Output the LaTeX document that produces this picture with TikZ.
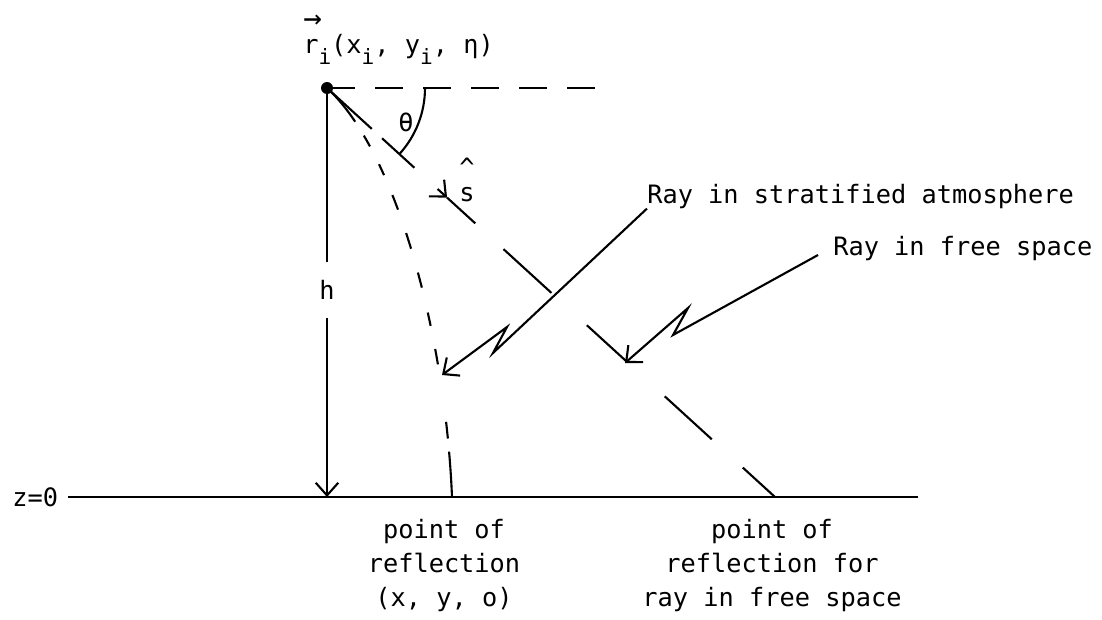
\documentclass[tikz,border=0pt]{standalone}
\usepackage{fontspec}
\setmainfont{DejaVu Sans Mono}
\usepackage{tikz}
\usetikzlibrary{arrows.meta,calc}

\begin{document}
\begin{tikzpicture}[
    x=0.025cm, y=-0.025cm,
    font=\fontsize{18}{24}\selectfont,
    ray/.style={line width=1.5pt},
    barb/.style={-{Straight Barb[length=9pt, width=16pt]}},
    txt/.style={inner sep=0pt}
]
\useasboundingbox (0,0) rectangle (1102,619);

% 観測点
\coordinate (src) at (327,88);
\fill (src) circle (6);
\node[txt, anchor=base west] (rlbl) at (303,53)
    {\makebox[0pt][l]{\raisebox{0.6cm}{\fontsize{22}{22}\selectfont →}}r\raisebox{-0.28cm}{\fontsize{15}{15}\selectfont i}(x\raisebox{-0.28cm}{\fontsize{15}{15}\selectfont i}, y\raisebox{-0.28cm}{\fontsize{15}{15}\selectfont i}, η)};

% 水平線と角度
\coordinate (hz) at (596,88);
\draw[ray, dash pattern=on 0.7cm off 0.5cm] (src) -- (hz);
\draw[ray] (src) ++(98,0) arc[start angle=0, end angle=42, radius=98];
\node (theta) at (406,122) {θ};

% 高さ h
\node[inner sep=0.45cm] (h) at (327,290) {h};
\coordinate (gh) at (327,497);
\draw[ray] (src) -- (h.north);
\draw[ray, barb] (h.south) -- (gh);

% 地面 z=0
\node[txt, anchor=west] (z0) at (12,497) {z=0};
\coordinate (ge) at (918,497);
\draw[ray] ([xshift=0.25cm]z0.east) -- (ge);

% 自由空間の光線
\coordinate (fs) at (775,497);
\foreach \a/\b in {0/0.10, 0.123/0.195, 0.268/0.331, 0.394/0.501, 0.58/0.67, 0.754/0.859, 0.928/1}
    \draw[ray] ($(src)!\a!(fs)$) -- ($(src)!\b!(fs)$);
\draw[ray, barb] ($(src)!0.247!(fs)$) -- ($(src)!0.268!(fs)$);
\node[txt, align=center, anchor=south] (shat) at (467,202) {\textasciicircum\\[-6pt]s};

% 成層大気中の光線
\coordinate (sp) at (452,497);
\draw[ray, dash pattern=on 1.1cm off 0.41cm on 0.31cm off 0.5cm on 0.3cm off 0.54cm on 0.39cm off 0.62cm on 0.41cm off 0.62cm on 0.39cm off 0.64cm on 0.34cm off 0.59cm on 0.39cm off 1.45cm on 0.42cm off 0.33cm on 1.3cm off 1cm]
    (src) .. controls (395,150) and (445,330) .. (sp);

% 引き出し線
\node[txt, anchor=base west] (strat) at (647,203) {Ray in stratified atmosphere};
\coordinate (stip) at (442,375);
\draw[ray, barb] (strat.south west) -- (493,353) -- (507,327) -- (stip);

\node[txt, anchor=base west] (free) at (833,255) {Ray in free space};
\coordinate (ftip) at (625,363);
\draw[ray, barb] ([xshift=-0.375cm]free.base west) -- (673,335) -- (688,308) -- (ftip);

% 反射点
\node[txt, align=center, anchor=north] (sref) at (444,519) {point of\\reflection\\(x, y, o)};
\node[txt, align=center, anchor=north] (fref) at (772,519) {point of\\reflection for\\ray in free space};

\end{tikzpicture}
\end{document}
